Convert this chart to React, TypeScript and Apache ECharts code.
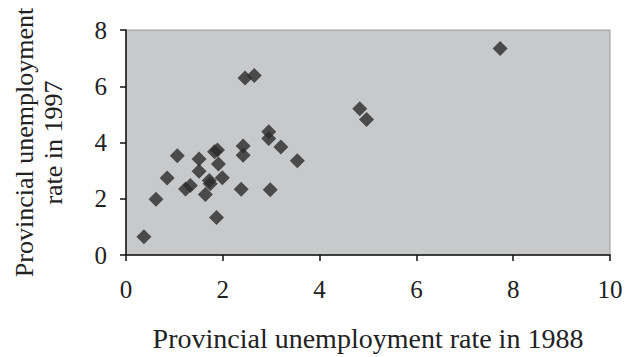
import React, { useEffect, useRef } from "react";
import * as echarts from "echarts";

const rate1988 = [0.37, 0.62, 0.85, 1.06, 1.23, 1.33, 1.51, 1.51, 1.64, 1.72, 1.74, 1.83, 1.89, 1.91, 1.87, 1.99, 2.38, 2.42, 2.42, 2.46, 2.65, 2.95, 2.95, 2.98, 3.2, 3.54, 4.83, 4.97, 7.73];
const rate1997 = [0.65, 1.98, 2.74, 3.53, 2.35, 2.47, 3.41, 2.98, 2.15, 2.65, 2.53, 3.67, 3.73, 3.24, 1.33, 2.75, 2.34, 3.88, 3.55, 6.29, 6.38, 4.38, 4.14, 2.32, 3.84, 3.35, 5.2, 4.82, 7.34];
const xTicks = [0, 2, 4, 6, 8, 10];
const yTicks = [0, 2, 4, 6, 8];

export default function App() {
  const ref = useRef<HTMLDivElement>(null);
  useEffect(() => {
    if (!ref.current) return;
    const chart = echarts.init(ref.current, null, { renderer: "svg" });
    const font = "'Liberation Serif', 'Times New Roman', serif";
    chart.setOption({
      animation: false,
      textStyle: { fontFamily: font },
      grid: {
        left: 126,
        right: 16,
        top: 30,
        bottom: 100,
        show: true,
        backgroundColor: "#c8c9cb",
        borderColor: "#9a9a9a",
        borderWidth: 1,
      },
      xAxis: {
        type: "value",
        min: xTicks[0],
        max: xTicks[xTicks.length - 1],
        interval: 2,
        splitLine: { show: false },
        axisLine: { show: true, lineStyle: { color: "#111", width: 1.5 } },
        axisTick: { show: true, length: 6, lineStyle: { color: "#111", width: 1.5 } },
        axisLabel: { color: "#222", fontSize: 25, fontFamily: font, margin: 22 },
        name: "Provincial unemployment rate in 1988",
        nameLocation: "middle",
        nameGap: 69,
        nameTextStyle: { color: "#222", fontSize: 28, fontFamily: font },
      },
      yAxis: {
        type: "value",
        min: yTicks[0],
        max: yTicks[yTicks.length - 1],
        interval: 2,
        splitLine: { show: false },
        axisLine: { show: true, lineStyle: { color: "#111", width: 1.5 } },
        axisTick: { show: true, length: 6, lineStyle: { color: "#111", width: 1.5 } },
        axisLabel: { color: "#222", fontSize: 25, fontFamily: font, margin: 19 },
        name: "Provincial unemployment\nrate in 1997",
        nameLocation: "middle",
        nameGap: 58,
        nameRotate: 90,
        nameTextStyle: { color: "#222", fontSize: 26, fontFamily: font, lineHeight: 29 },
      },
      series: [
        {
          type: "scatter",
          symbol: "diamond",
          symbolSize: 15,
          itemStyle: { color: "#2b2b2b" },
          data: rate1988.map((x, i) => [x, rate1997[i]]),
        },
      ],
    });
    return () => chart.dispose();
  }, []);
  return <div ref={ref} style={{ width: 626, height: 357, position: "absolute", left: 0, top: 0, background: "#fff" }} />;
}
